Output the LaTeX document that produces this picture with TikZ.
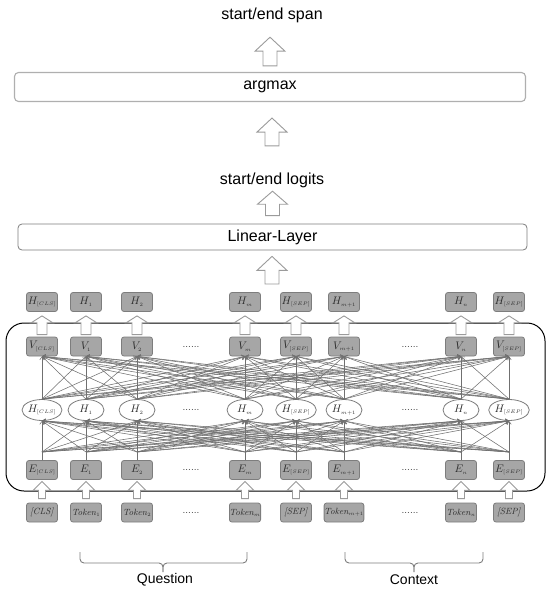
\documentclass[tikz,border=0pt]{standalone}
\usepackage{fontspec}
\setsansfont{Liberation Sans}
\usetikzlibrary{calc,arrows.meta,shapes.geometric}
\definecolor{boxfill}{RGB}{166,166,166}
\definecolor{boxline}{RGB}{125,125,125}
\definecolor{meshc}{RGB}{112,112,112}
\definecolor{hollowc}{RGB}{155,155,155}
\definecolor{labc}{RGB}{45,45,45}
\definecolor{lightframe}{RGB}{175,175,175}
% lower node, upper node, gap below, gap above, half head width, half shaft width, head length
\newcommand{\hollowup}[7]{%
  \draw[hollow] let \p1=($(#1.north)+(0,#3)$), \p2=($(#2.south)+(0,-#4)$) in
    (\x1-#6,\y1) -- (\x1-#6,\y2-#7) -- (\x1-#5,\y2-#7) -- (\x1,\y2)
    -- (\x1+#5,\y2-#7) -- (\x1+#6,\y2-#7) -- (\x1+#6,\y1) -- cycle;}
\begin{document}
\begin{tikzpicture}[x=1pt,y=-1pt,
  gbox/.style={draw=boxline,fill=boxfill,rounded corners=2.5pt,minimum width=31pt,
    minimum height=19pt,inner sep=0pt,line width=0.8pt,text=labc,font=\fontsize{11}{11}\selectfont},
  tbox/.style={gbox,font=\fontsize{9}{9}\selectfont},
  gell/.style={draw=boxline,fill=white,ellipse,minimum width=36pt,minimum height=21pt,
    inner sep=0pt,line width=0.8pt,text=labc,font=\fontsize{11}{11}\selectfont},
  widebox/.style={draw=boxline,fill=white,rounded corners=4pt,line width=0.8pt,
    inner sep=0pt,font=\sffamily\fontsize{16}{16}\selectfont,text=black},
  titletext/.style={inner sep=0pt,text height=11pt,text depth=3pt,
    font=\sffamily\fontsize{16}{16}\selectfont,text=black},
  bracelabel/.style={inner sep=0pt,font=\sffamily\fontsize{14}{14}\selectfont,text=black},
  mesh/.style={draw=meshc,line width=0.55pt,-{Straight Barb[length=3pt,width=4.5pt]}},
  meshline/.style={draw=meshc,line width=0.55pt},
  hollow/.style={draw=hollowc,fill=white,line width=0.9pt,line join=miter},
  dotstext/.style={text=labc,inner sep=0pt,font=\fontsize{10}{10}\selectfont},
  bracket/.style={draw=boxline,line width=0.9pt,rounded corners=4pt}
]
\useasboundingbox (0,0) rectangle (547,591);

% top part
\node[titletext] (span) at (272,16) {start/end span};
\node[widebox,draw=lightframe,line width=1.1pt,minimum width=511pt,minimum height=29pt] (argmax) at (270,87) {argmax};
\node[titletext] (logits) at (272,180) {start/end logits};
\node[widebox,minimum width=509pt,minimum height=26pt] (linear) at (272.5,237) {Linear-Layer};
\coordinate (encout) at (272,284);

\hollowup{argmax}{span}{6pt}{14pt}{15pt}{7pt}{14pt}
\hollowup{logits}{argmax}{27pt}{16pt}{15pt}{7pt}{14pt}
\hollowup{linear}{logits}{8pt}{4pt}{15pt}{7pt}{13pt}
\hollowup{encout}{linear}{0pt}{6pt}{15pt}{7pt}{14pt}

% encoder frame
\draw[black,line width=1pt,rounded corners=18pt] (6,323) rectangle (545,491);

% rows
\foreach \x/\s [count=\i] in {42/{[CLS]},86/1,137/2,245/m,296/{[SEP]},344/{m+1},461/n,509/{[SEP]}}{
  \node[gbox] (ht\i) at (\x,302) {$H_{\scriptscriptstyle \s}$};
  \node[gbox] (v\i) at (\x,346.5) {$V_{\scriptscriptstyle \s}$};
  \node[gell] (h\i) at (\x,410) {$H_{\scriptscriptstyle \s}$};
  \node[gbox] (e\i) at (\x,470) {$E_{\scriptscriptstyle \s}$};
  \coordinate (ec\i) at (\x,452);
}
\foreach \x/\t [count=\i] in {42/{\textit{[CLS]}},86/{\textit{Token}$_{\scriptscriptstyle 1}$},
  137/{\textit{Token}$_{\scriptscriptstyle 2}$},245/{\textit{Token}$_{\scriptscriptstyle m}$},
  296/{\textit{[SEP]}},344/{\textit{Token}$_{\scriptscriptstyle m+1}$},
  461/{\textit{Token}$_{\scriptscriptstyle n}$},509/{\textit{[SEP]}}}{
  \node[tbox] (t\i) at (\x,512.5) {\t};
}
% dots
\foreach \y in {346.5,410,470,512.5}{
  \node[dotstext] at (191,\y) {......};
  \node[dotstext] at (410,\y) {......};
}

% dense connections
\foreach \i in {1,...,8}{
  \foreach \j in {1,...,8}{
    \draw[mesh] (h\i.north) -- (v\j.south);
    \draw[mesh] (ec\i) -- (h\j.south);
  }
  \draw[meshline] (e\i.north) -- (ec\i);
}

% small hollow arrows
\foreach \i in {1,...,8}{
  \hollowup{v\i}{ht\i}{2pt}{4pt}{11pt}{5pt}{7pt}
  \hollowup{t\i}{e\i}{4pt}{1.5pt}{9pt}{3.5pt}{9pt}
}

% braces
\draw[bracket] (80,552) -- (80,563) -- (163,563) -- (163,572);
\draw[bracket] (247,552) -- (247,563) -- (163,563) -- (163,572);
\draw[bracket] (345,552) -- (345,563) -- (414,563) -- (414,572);
\draw[bracket] (483,552) -- (483,563) -- (414,563) -- (414,572);
\node[bracelabel] (q) at (165,580) {Question};
\node[bracelabel] (c) at (414,580) {Context};
\end{tikzpicture}
\end{document}
